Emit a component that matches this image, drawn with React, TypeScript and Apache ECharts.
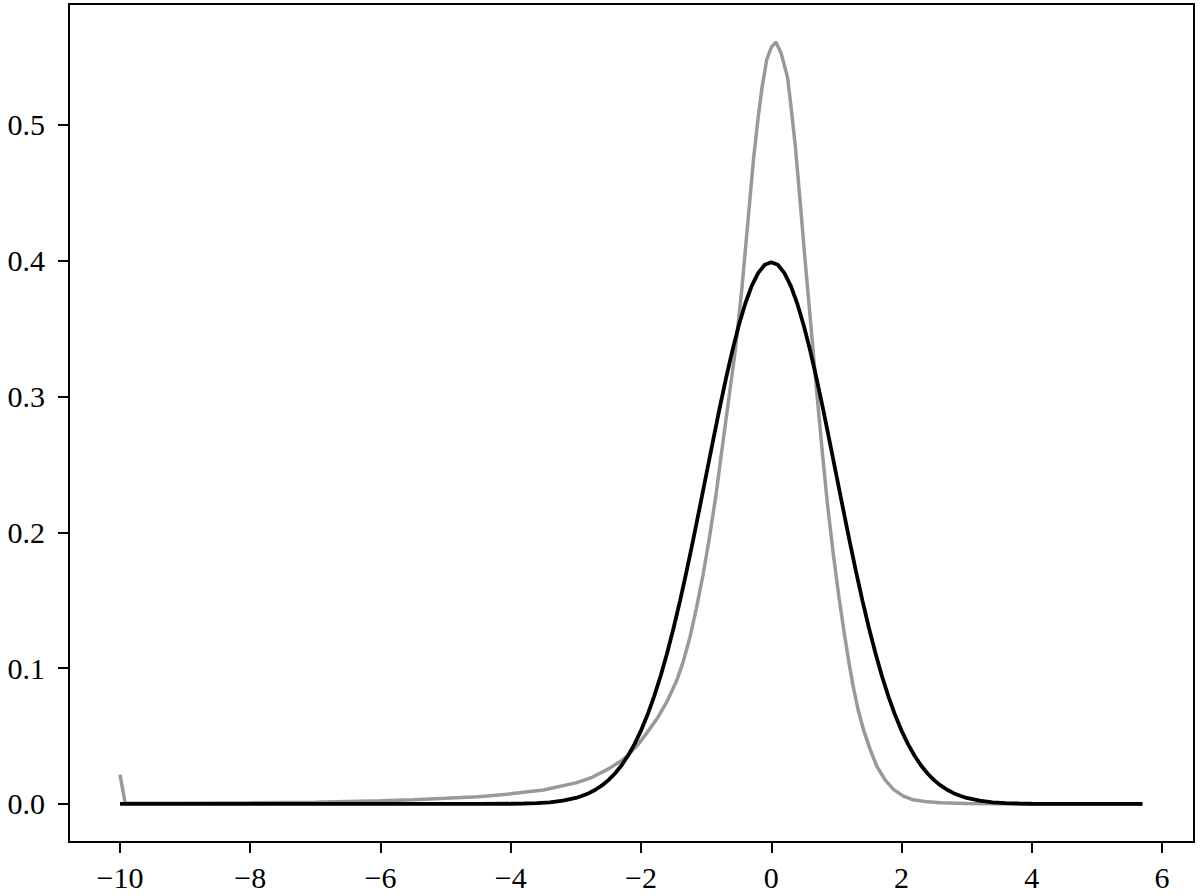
import React, { useEffect, useRef } from 'react';
import * as echarts from 'echarts';

const xTicks = [-10, -8, -6, -4, -2, 0, 2, 4, 6];
const yTicks = [0, 0.1, 0.2, 0.3, 0.4, 0.5];

const grayX = [-10, -9.92, -9, -8, -7, -6, -5.5, -5, -4.5, -4, -3.5, -3, -2.75, -2.5, -2.3, -2.19, -2.05, -1.91, -1.75, -1.6, -1.45, -1.35, -1.25, -1.15, -1.05, -0.95, -0.85, -0.757, -0.65, -0.55, -0.45, -0.36, -0.27, -0.2, -0.14, -0.07, 0, 0.07, 0.15, 0.25, 0.3, 0.37, 0.45, 0.52, 0.6, 0.68, 0.78, 0.86, 0.95, 1.04, 1.12, 1.2, 1.26, 1.34, 1.42, 1.52, 1.62, 1.75, 1.88, 2.03, 2.18, 2.4, 2.6, 3, 3.5, 4, 5.7];
const grayY = [0.0216, 0.0005, 0.0005, 0.0008, 0.0013, 0.0024, 0.0031, 0.0041, 0.0053, 0.0074, 0.0102, 0.0155, 0.0196, 0.0258, 0.0318, 0.0363, 0.0435, 0.0523, 0.063, 0.0755, 0.091, 0.105, 0.1225, 0.144, 0.168, 0.196, 0.227, 0.261, 0.299, 0.335, 0.38, 0.428, 0.476, 0.506, 0.528, 0.548, 0.557, 0.561, 0.553, 0.535, 0.515, 0.484, 0.44, 0.4, 0.357, 0.313, 0.261, 0.222, 0.185, 0.152, 0.126, 0.102, 0.086, 0.068, 0.054, 0.04, 0.0277, 0.0175, 0.0105, 0.0057, 0.003, 0.0015, 0.0008, 0.0003, 0.0001, 0, 0];

const blackX = [-10, -4.5, -4, -3.8, -3.6, -3.4, -3.2, -3.0, -2.9, -2.8, -2.7, -2.6, -2.5, -2.4, -2.3, -2.2, -2.1, -2.0, -1.9, -1.8, -1.7, -1.6, -1.5, -1.4, -1.3, -1.2, -1.1, -1.0, -0.9, -0.8, -0.7, -0.6, -0.5, -0.4, -0.3, -0.2, -0.1, 0, 0.1, 0.2, 0.3, 0.4, 0.5, 0.6, 0.7, 0.8, 0.9, 1.0, 1.1, 1.2, 1.3, 1.4, 1.5, 1.6, 1.7, 1.8, 1.9, 2.0, 2.1, 2.2, 2.3, 2.4, 2.5, 2.6, 2.7, 2.8, 2.9, 3.0, 3.2, 3.4, 3.6, 3.8, 4.0, 4.5, 5.7];
const blackY = [0, 0, 0.0001, 0.0003, 0.0006, 0.0012, 0.0024, 0.0044, 0.006, 0.0079, 0.0104, 0.0136, 0.0175, 0.0224, 0.0283, 0.0355, 0.044, 0.054, 0.0656, 0.079, 0.094, 0.1109, 0.1295, 0.1497, 0.1714, 0.1942, 0.2179, 0.242, 0.2661, 0.2897, 0.3123, 0.3332, 0.3521, 0.3683, 0.3814, 0.391, 0.397, 0.3989, 0.397, 0.391, 0.3814, 0.3683, 0.3521, 0.3332, 0.3123, 0.2897, 0.2661, 0.242, 0.2179, 0.1942, 0.1714, 0.1497, 0.1295, 0.1109, 0.094, 0.079, 0.0656, 0.054, 0.044, 0.0355, 0.0283, 0.0224, 0.0175, 0.0136, 0.0104, 0.0079, 0.006, 0.0044, 0.0024, 0.0012, 0.0006, 0.0003, 0.0001, 0, 0];

const FONT = '"Liberation Serif", "DejaVu Serif", serif';

export default function App() {
  const ref = useRef<HTMLDivElement>(null);
  useEffect(() => {
    document.body.style.margin = '0';
    const chart = echarts.init(ref.current!, null, { renderer: 'svg' });
    chart.setOption({
      animation: false,
      backgroundColor: '#fff',
      grid: { left: 69, right: 6, top: 4, bottom: 53, show: true, borderColor: '#000', borderWidth: 2, backgroundColor: 'transparent' },
      xAxis: {
        type: 'value',
        min: -10.783,
        max: 6.491,
        axisLine: { show: true, onZero: false, lineStyle: { color: '#000', width: 2 } },
        axisTick: { show: true, length: 11, lineStyle: { color: '#000', width: 2 }, customValues: xTicks },
        axisLabel: {
          customValues: xTicks,
          formatter: (v: number) => (v < 0 ? '\u2212' + Math.abs(v) : String(v)),
          fontFamily: FONT,
          fontSize: 30,
          color: '#000',
          margin: 20,
        },
        splitLine: { show: false },
      },
      yAxis: {
        type: 'value',
        min: -0.02805,
        max: 0.589,
        axisLine: { show: true, onZero: false, lineStyle: { color: '#000', width: 2 } },
        axisTick: { show: true, length: 11, lineStyle: { color: '#000', width: 2 }, customValues: yTicks },
        axisLabel: {
          customValues: yTicks,
          formatter: (v: number) => v.toFixed(1),
          fontFamily: FONT,
          fontSize: 30,
          color: '#000',
          margin: 24,
        },
        splitLine: { show: false },
      },
      series: [
        {
          type: 'line',
          data: grayX.map((x, i) => [x, grayY[i]]),
          showSymbol: false,
          lineStyle: { color: '#999999', width: 3.5 },
          silent: true,
        },
        {
          type: 'line',
          data: blackX.map((x, i) => [x, blackY[i]]),
          showSymbol: false,
          lineStyle: { color: '#000000', width: 3.8 },
          silent: true,
        },
      ],
    });
    return () => chart.dispose();
  }, []);
  return <div ref={ref} style={{ width: 1200, height: 895 }} />;
}
